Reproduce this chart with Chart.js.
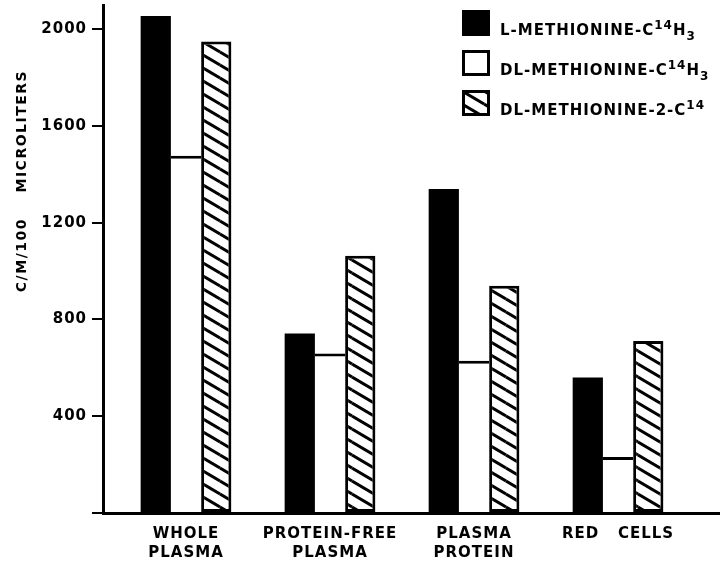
<!DOCTYPE html>
<html>
<head>
<meta charset="utf-8">
<script src="https://cdn.jsdelivr.net/npm/chart.js@4.4.1/dist/chart.umd.min.js"></script>
<style>
  body { margin: 0; background: #fff; }
  canvas { display: block; }
</style>
</head>
<body>
<canvas id="grafico" width="720" height="566"></canvas>
<script>
// groups along the bottom (multi-line labels)
const categories = [['WHOLE', 'PLASMA'], ['PROTEIN-FREE', 'PLASMA'], ['PLASMA', 'PROTEIN'], ['RED   CELLS']];
// c/m per 100 microliters
const lMethionine = [2055, 742, 1339, 560];
const dlMethionine = [1477, 659, 629, 232];
const dlMethionine2 = [1949, 1063, 939, 711];
const seriesLabels = ['L-METHIONINE-C^{14}H_{3}', 'DL-METHIONINE-C^{14}H_{3}', 'DL-METHIONINE-2-C^{14}'];
const yTicks = [0, 400, 800, 1200, 1600, 2000];
const yTitle = 'C/M/100    MICROLITERS';

const FONT = 'DejaVu Sans';
const ctx = document.getElementById('grafico').getContext('2d');

// diagonal hatch "\\\" for the third series
function makeHatch() {
  const w = 22, h = 13;
  const tile = document.createElement('canvas');
  tile.width = w; tile.height = h;
  const t = tile.getContext('2d');
  t.fillStyle = '#fff';
  t.fillRect(0, 0, w, h);
  t.strokeStyle = '#000';
  t.lineWidth = 3;
  [[0, 0], [-w, 0], [w, 0], [0, -h], [0, h]].forEach(([dx, dy]) => {
    t.beginPath();
    t.moveTo(dx, dy);
    t.lineTo(dx + w, dy + h);
    t.stroke();
  });
  return ctx.createPattern(tile, 'repeat');
}
const hatch = makeHatch();

function toPoints(arr) {
  return arr.map((v, i) => ({ x: i + 1, y: v }));
}

// label text with ^{..} superscripts and _{..} subscripts
function drawRichText(c, str, x, y) {
  const parts = str.split(/(\^\{[^}]*\}|_\{[^}]*\})/).filter(s => s.length);
  parts.forEach(p => {
    let txt = p, dy = 0, size = 15;
    if (p.startsWith('^{')) { txt = p.slice(2, -1); dy = -6; size = 12; }
    else if (p.startsWith('_{')) { txt = p.slice(2, -1); dy = 5; size = 12; }
    c.font = 'bold ' + size + 'px "' + FONT + '"';
    c.fillText(txt, x, y + dy);
    x += c.measureText(txt).width;
  });
}

const decorations = {
  id: 'decorations',
  beforeDraw(chart) {
    chart.ctx.letterSpacing = '1px';
  },
  afterDraw(chart) {
    const c = chart.ctx;
    c.save();
    c.fillStyle = '#000';
    c.strokeStyle = '#000';
    c.letterSpacing = '1.5px';

    // y axis title
    c.save();
    c.translate(22, 181);
    c.rotate(-Math.PI / 2);
    c.font = 'bold 14px "' + FONT + '"';
    c.textAlign = 'center';
    c.textBaseline = 'middle';
    c.fillText(yTitle, 0, 0);
    c.restore();

    // legend, top right
    c.letterSpacing = '1px';
    c.textAlign = 'left';
    c.textBaseline = 'alphabetic';
    chart.data.datasets.forEach((ds, i) => {
      const bx = 462, by = 10 + i * 40, bw = 28, bh = 26;
      c.fillStyle = ds.backgroundColor;
      c.fillRect(bx, by, bw, bh);
      if (i > 0) {
        c.lineWidth = 3;
        c.strokeRect(bx + 1.5, by + 1.5, bw - 3, bh - 3);
      }
      c.fillStyle = '#000';
      drawRichText(c, seriesLabels[i], 500, by + 25);
    });
    c.restore();
  }
};

new Chart(ctx, {
  type: 'bar',
  data: {
    datasets: [{
      label: 'L-METHIONINE-C14H3',
      data: toPoints(lMethionine),
      backgroundColor: '#000',
      borderWidth: 0
    }, {
      label: 'DL-METHIONINE-C14H3',
      data: toPoints(dlMethionine),
      backgroundColor: '#fff',
      borderColor: '#000',
      borderWidth: { top: 3, left: 0, right: 0, bottom: 0 }
    }, {
      label: 'DL-METHIONINE-2-C14',
      data: toPoints(dlMethionine2),
      backgroundColor: hatch,
      borderColor: '#000',
      borderWidth: 3,
      borderSkipped: false
    }]
  },
  options: {
    responsive: false,
    animation: false,
    devicePixelRatio: 1,
    categoryPercentage: 0.63,
    barPercentage: 1,
    layout: { padding: { top: 5, right: 0, bottom: 0, left: 0 } },
    plugins: {
      legend: { display: false },
      tooltip: { enabled: false }
    },
    scales: {
      x: {
        type: 'linear',
        offset: false,
        min: 0.4236,
        max: 4.708,
        grid: { display: false, drawTicks: false },
        border: { display: true, color: '#000', width: 3 },
        ticks: {
          maxRotation: 0,
          autoSkip: false,
          padding: 12,
          color: '#000',
          font: { family: FONT, size: 15, weight: 'bold', lineHeight: 1.27 },
          callback: (v) => categories[v - 1] || ''
        },
        afterBuildTicks: (scale) => { scale.ticks = categories.map((c, i) => ({ value: i + 1 })); },
        afterFit: (scale) => { scale.height = 53; scale.paddingLeft = 0; scale.paddingRight = 0; }
      },
      y: {
        min: 0,
        max: 2100,
        grid: { drawOnChartArea: false, drawTicks: true, tickLength: 11, color: '#000', lineWidth: 2 },
        border: { display: true, color: '#000', width: 3 },
        ticks: {
          padding: 5,
          color: '#000',
          font: { family: FONT, size: 15, weight: 'bold' },
          callback: (v) => v === 0 ? '' : String(v)
        },
        afterBuildTicks: (scale) => { scale.ticks = yTicks.map(v => ({ value: v })); },
        afterFit: (scale) => { scale.width = 103; scale.paddingTop = 0; scale.paddingBottom = 0; }
      }
    }
  },
  plugins: [decorations]
});
</script>
</body>
</html>
